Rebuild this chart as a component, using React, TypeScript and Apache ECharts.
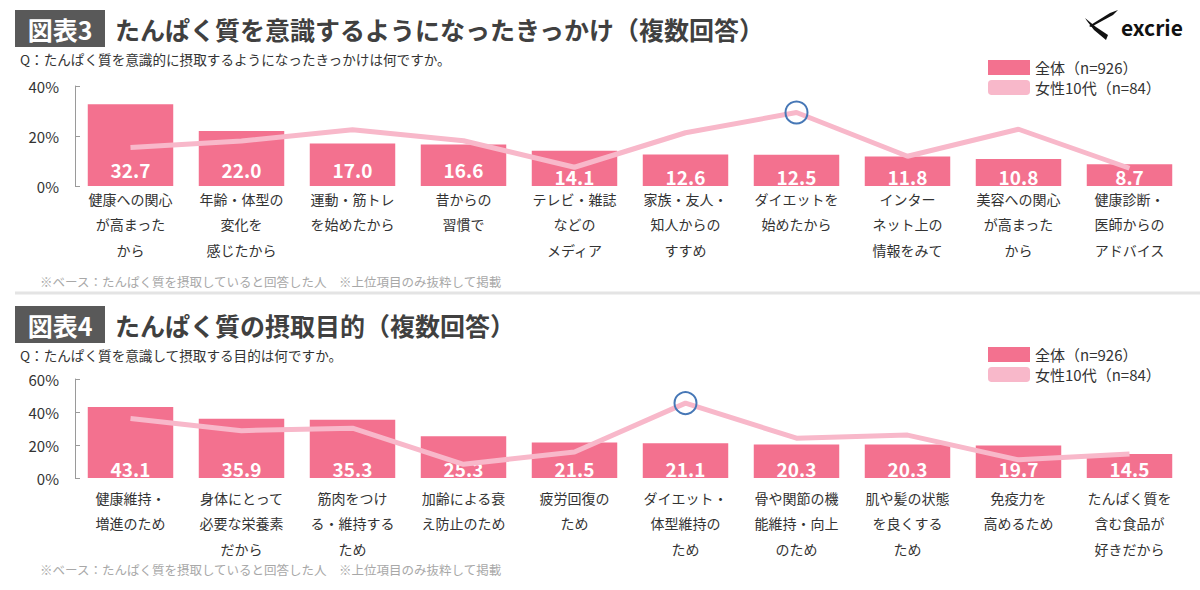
import React, { useEffect, useRef } from "react";
import * as echarts from "echarts";

// 図表3: きっかけ
const triggerCategories = [
  "健康への関心\nが高まった\nから",
  "年齢・体型の\n変化を\n感じたから",
  "運動・筋トレ\nを始めたから",
  "昔からの\n習慣で",
  "テレビ・雑誌\nなどの\nメディア",
  "家族・友人・\n知人からの\nすすめ",
  "ダイエットを\n始めたから",
  "インター\nネット上の\n情報をみて",
  "美容への関心\nが高まった\nから",
  "健康診断・\n医師からの\nアドバイス",
];
const triggerAll = [32.7, 22.0, 17.0, 16.6, 14.1, 12.6, 12.5, 11.8, 10.8, 8.7];
const triggerTeenGirls = [15.4, 18.0, 22.5, 18.1, 7.5, 21.3, 29.4, 11.9, 22.7, 7.1];

// 図表4: 摂取目的
const purposeCategories = [
  "健康維持・\n増進のため",
  "身体にとって\n必要な栄養素\nだから",
  "筋肉をつけ\nる・維持する\nため",
  "加齢による衰\nえ防止のため",
  "疲労回復の\nため",
  "ダイエット・\n体型維持の\nため",
  "骨や関節の機\n能維持・向上\nのため",
  "肌や髪の状態\nを良くする\nため",
  "免疫力を\n高めるため",
  "たんぱく質を\n含む食品が\n好きだから",
];
const purposeAll = [43.1, 35.9, 35.3, 25.3, 21.5, 21.1, 20.3, 20.3, 19.7, 14.5];
const purposeTeenGirls = [36.0, 28.7, 30.2, 8.3, 15.8, 45.4, 24.1, 26.0, 11.0, 14.6];

const nameAll = "全体（n=926）";
const nameTeen = "女性10代（n=84）";

const FONT = '"Noto Sans CJK JP", "Noto Sans", sans-serif';
const BAR = "#f3718f";
const LINE = "#f8b8ca";
const RING = "#4677b6";
const AXIS = "#9a9a9a";

function App() {
  const ref = useRef<HTMLDivElement>(null);

  useEffect(() => {
    document.body.style.margin = "0";
    if (!ref.current) return;
    const chart = echarts.init(ref.current, undefined, { renderer: "svg" });

    const yAxisBase = (max: number) => ({
      type: "value" as const,
      min: 0,
      max,
      interval: 20,
      axisLine: { show: true, lineStyle: { color: AXIS, width: 1 } },
      axisTick: { show: true, inside: true, length: 5, lineStyle: { color: AXIS } },
      splitLine: { show: false },
      axisLabel: {
        formatter: "{value}%",
        fontSize: 15,
        color: "#333",
        margin: 16,
        fontFamily: FONT,
      },
    });

    const xAxisBase = (cats: string[], gridIndex: number, margin: number) => ({
      type: "category" as const,
      gridIndex,
      data: cats,
      axisLine: { show: false },
      axisTick: { show: false },
      axisLabel: {
        interval: 0,
        fontSize: 14,
        lineHeight: 25.5,
        color: "#333",
        margin,
        fontFamily: FONT,
      },
    });

    const barSeries = (vals: number[], idx: number, raise: (v: number) => number) => ({
      type: "bar" as const,
      name: nameAll,
      xAxisIndex: idx,
      yAxisIndex: idx,
      barCategoryGap: "23%",
      itemStyle: { color: BAR },
      z: 2,
      data: vals.map((v) => ({ value: v, label: { distance: raise(v) } })),
      label: {
        show: true,
        position: "insideBottom" as const,
        color: "#fff",
        fontSize: 19,
        fontWeight: "bold" as const,
        fontFamily: FONT,
        formatter: (p: any) => Number(p.value).toFixed(1),
      },
    });

    const lineSeries = (vals: number[], idx: number, highlight: number) => ({
      type: "line" as const,
      name: nameTeen,
      xAxisIndex: idx,
      yAxisIndex: idx,
      data: vals,
      symbol: "none",
      z: 3,
      lineStyle: { color: LINE, width: 5 },
      itemStyle: { color: LINE },
      markPoint: {
        symbol: "circle",
        symbolSize: 22,
        itemStyle: { color: "rgba(0,0,0,0)", borderColor: RING, borderWidth: 2 },
        label: { show: false },
        data: [{ coord: [highlight, vals[highlight]] }],
      },
    });

    const legendAt = (top: number) => ({
      orient: "vertical" as const,
      left: 983,
      top,
      itemWidth: 42,
      itemHeight: 15,
      itemGap: 5,
      textStyle: { fontSize: 15, color: "#333", fontFamily: FONT },
      data: [
        { name: nameAll, icon: "rect" },
        { name: nameTeen, icon: "roundRect", itemStyle: { color: LINE } },
      ],
    });

    const titleBlock = (y: number, tag: string, title: string, question: string, noteY: number) => [
      { type: "rect", shape: { x: 15, y, width: 90, height: 37 }, style: { fill: "#595959" } },
      {
        type: "text",
        x: 60,
        y: y + 18.5,
        style: {
          text: tag,
          fill: "#fff",
          font: `bold 25px ${FONT}`,
          textAlign: "center",
          textVerticalAlign: "middle",
        },
      },
      {
        type: "text",
        x: 115,
        y: y + 18.5,
        style: {
          text: title,
          fill: "#404040",
          font: `bold 25px ${FONT}`,
          textVerticalAlign: "middle",
        },
      },
      {
        type: "text",
        x: 20,
        y: y + 49,
        style: { text: question, fill: "#333", font: `13.6px ${FONT}`, textVerticalAlign: "middle" },
      },
      {
        type: "text",
        x: 40,
        y: noteY,
        style: {
          text: "※ベース：たんぱく質を摂取していると回答した人　※上位項目のみ抜粋して掲載",
          fill: "#a8a8a8",
          font: `12.5px ${FONT}`,
          textVerticalAlign: "middle",
        },
      },
    ];

    chart.setOption({
      animation: false,
      backgroundColor: "#fff",
      textStyle: { fontFamily: FONT },
      legend: [legendAt(55), legendAt(342)],
      grid: [
        { left: 75, top: 86, width: 1110, height: 100 },
        { left: 75, top: 379, width: 1110, height: 99 },
      ],
      xAxis: [xAxisBase(triggerCategories, 0, 0), xAxisBase(purposeCategories, 1, 7)],
      yAxis: [
        { ...yAxisBase(40), gridIndex: 0 },
        { ...yAxisBase(60), gridIndex: 1 },
      ],
      series: [
        barSeries(triggerAll, 0, (v) => (v >= 15 ? 7 : 0)),
        lineSeries(triggerTeenGirls, 0, 6),
        barSeries(purposeAll, 1, () => 0),
        lineSeries(purposeTeenGirls, 1, 5),
      ],
      graphic: [
        ...titleBlock(
          10,
          "図表3",
          "たんぱく質を意識するようになったきっかけ（複数回答）",
          "Q：たんぱく質を意識的に摂取するようになったきっかけは何ですか。",
          281
        ),
        { type: "line", shape: { x1: 15, y1: 293, x2: 1200, y2: 293 }, style: { stroke: "#e4e4e4", lineWidth: 3 } },
        ...titleBlock(
          306,
          "図表4",
          "たんぱく質の摂取目的（複数回答）",
          "Q：たんぱく質を意識して摂取する目的は何ですか。",
          569
        ),
        // excrie logo
        {
          type: "polygon",
          shape: { points: [[1118, 10], [1113, 15], [1091, 27], [1089, 26], [1110, 13]] },
          style: { fill: "#111" },
        },
        {
          type: "polygon",
          shape: { points: [[1085, 18], [1096, 27], [1108, 35], [1106, 40], [1094, 30], [1087, 21]] },
          style: { fill: "#111" },
        },
        {
          type: "text",
          x: 1121,
          y: 27,
          style: {
            text: "excrie",
            fill: "#111",
            font: `bold 21px ${FONT}`,
            textVerticalAlign: "middle",
          },
        },
      ],
    });

    return () => chart.dispose();
  }, []);

  return <div ref={ref} style={{ width: 1200, height: 590 }} />;
}

export default App;
